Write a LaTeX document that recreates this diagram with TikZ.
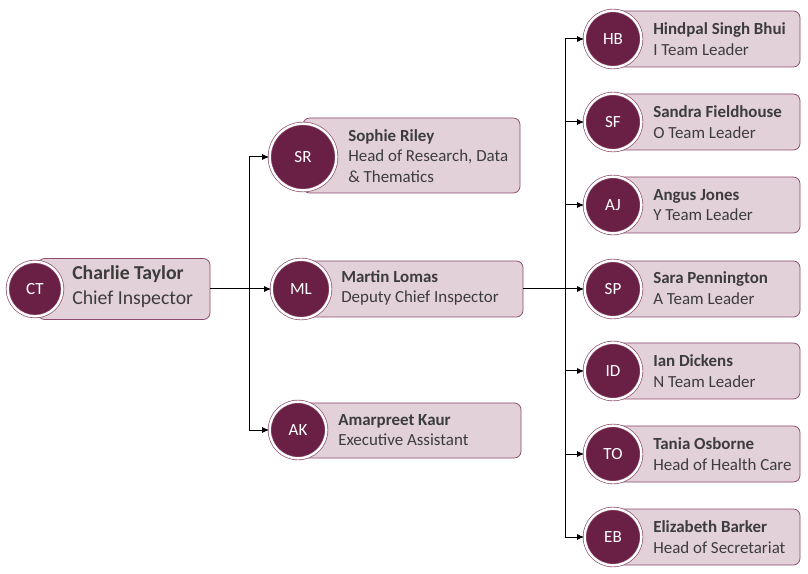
\documentclass[tikz,border=0pt]{standalone}
\usepackage{fontspec}
\setmainfont{Carlito}
\usetikzlibrary{arrows.meta}
\definecolor{plum}{HTML}{6A1F45}
\definecolor{cardfill}{HTML}{E2D1D9}
\definecolor{cardline}{HTML}{8C4A6C}
\definecolor{inktext}{HTML}{3C3C3C}
\begin{document}
\begin{tikzpicture}[x=0.75pt,y=-0.75pt,
	cardbox/.style={draw=cardline,fill=cardfill,line width=0.6pt,rounded corners=5pt,inner sep=0pt},
	avatar/.style={circle,fill=plum,draw=cardline,line width=0.5pt,double=white,double distance=1.8pt,
		inner sep=0pt,text=white,font=\fontsize{12.8}{14}\selectfont},
	cardtext/.style={anchor=west,align=left,inner sep=0pt,text=inktext,font=\fontsize{12.7}{15.2}\selectfont},
	link/.style={line width=0.75pt,-{Latex[length=5.5pt,width=4.5pt]}}]
			\useasboundingbox (0,0) rectangle (808,574);
			% top
			\node[cardbox,minimum width=129pt,minimum height=45.75pt] (ct-box) at (124,289) {};
			\node[avatar,minimum size=41pt] (ct) at (35,289) {CT};
			\node[cardtext,font=\fontsize{14.8}{18.75}\selectfont] (ct-txt) at (72,287) {\textbf{Charlie Taylor}\\Chief Inspector};
			% second level
			\node[cardbox,minimum width=162.75pt,minimum height=56.25pt] (sr-box) at (411.5,155.5) {};
			\node[avatar,minimum size=50pt] (sr) at (303,157) {SR};
			\node[cardtext] (sr-txt) at (348,156) {\textbf{Sophie Riley}\\Head of Research, Data\\\& Thematics};
			\node[cardbox,minimum width=166.5pt,minimum height=42pt] (ml-box) at (412,289) {};
			\node[avatar,minimum size=44pt] (ml) at (301,289) {ML};
			\node[cardtext] (ml-txt) at (341,288) {\textbf{Martin Lomas}\\Deputy Chief Inspector};
			\node[cardbox,minimum width=167.25pt,minimum height=41.25pt] (ak-box) at (409.5,430.5) {};
			\node[avatar,minimum size=42.5pt] (ak) at (298,430) {AK};
			\node[cardtext] (ak-txt) at (338,430) {\textbf{Amarpreet Kaur}\\Executive Assistant};
			% team leaders
			\node[cardbox,minimum width=140.25pt,minimum height=42pt] (hb-box) at (706.5,39) {};
			\node[avatar,minimum size=42.5pt] (hb) at (613,39) {HB};
			\node[cardtext] (hb-txt) at (653,39) {\textbf{Hindpal Singh Bhui}\\I Team Leader};
			\node[cardbox,minimum width=140.25pt,minimum height=42pt] (sf-box) at (706.5,122) {};
			\node[avatar,minimum size=42.5pt] (sf) at (613,122) {SF};
			\node[cardtext] (sf-txt) at (653,122) {\textbf{Sandra Fieldhouse}\\O Team Leader};
			\node[cardbox,minimum width=140.25pt,minimum height=42pt] (aj-box) at (706.5,205) {};
			\node[avatar,minimum size=42.5pt] (aj) at (613,205) {AJ};
			\node[cardtext] (aj-txt) at (653,205) {\textbf{Angus Jones}\\Y Team Leader};
			\node[cardbox,minimum width=140.25pt,minimum height=42pt] (sp-box) at (706.5,289) {};
			\node[avatar,minimum size=42.5pt] (sp) at (613,289) {SP};
			\node[cardtext] (sp-txt) at (653,288) {\textbf{Sara Pennington}\\A Team Leader};
			\node[cardbox,minimum width=140.25pt,minimum height=42pt] (id-box) at (706.5,371) {};
			\node[avatar,minimum size=42.5pt] (id) at (613,371) {ID};
			\node[cardtext] (id-txt) at (653,371) {\textbf{Ian Dickens}\\N Team Leader};
			\node[cardbox,minimum width=140.25pt,minimum height=42pt] (to-box) at (706.5,454) {};
			\node[avatar,minimum size=42.5pt] (to) at (613,454) {TO};
			\node[cardtext] (to-txt) at (653,454) {\textbf{Tania Osborne}\\Head of Health Care};
			\node[cardbox,minimum width=140.25pt,minimum height=42pt] (eb-box) at (706.5,537) {};
			\node[avatar,minimum size=42.5pt] (eb) at (613,537) {EB};
			\node[cardtext] (eb-txt) at (653,537) {\textbf{Elizabeth Barker}\\Head of Secretariat};
			% connectors
			\coordinate (split-a) at (249,289);
			\coordinate (split-b) at (565,289);
			\draw[link] (ct-box.east) -- (split-a) |- (sr.west);
			\draw[link] (ct-box.east) -- (ml.west);
			\draw[link] (ct-box.east) -- (split-a) |- (ak.west);
			\draw[link] (ml-box.east) -- (split-b) |- (hb.west);
			\draw[link] (ml-box.east) -- (split-b) |- (sf.west);
			\draw[link] (ml-box.east) -- (split-b) |- (aj.west);
			\draw[link] (ml-box.east) -- (sp.west);
			\draw[link] (ml-box.east) -- (split-b) |- (id.west);
			\draw[link] (ml-box.east) -- (split-b) |- (to.west);
			\draw[link] (ml-box.east) -- (split-b) |- (eb.west);
		\end{tikzpicture}
\end{document}
